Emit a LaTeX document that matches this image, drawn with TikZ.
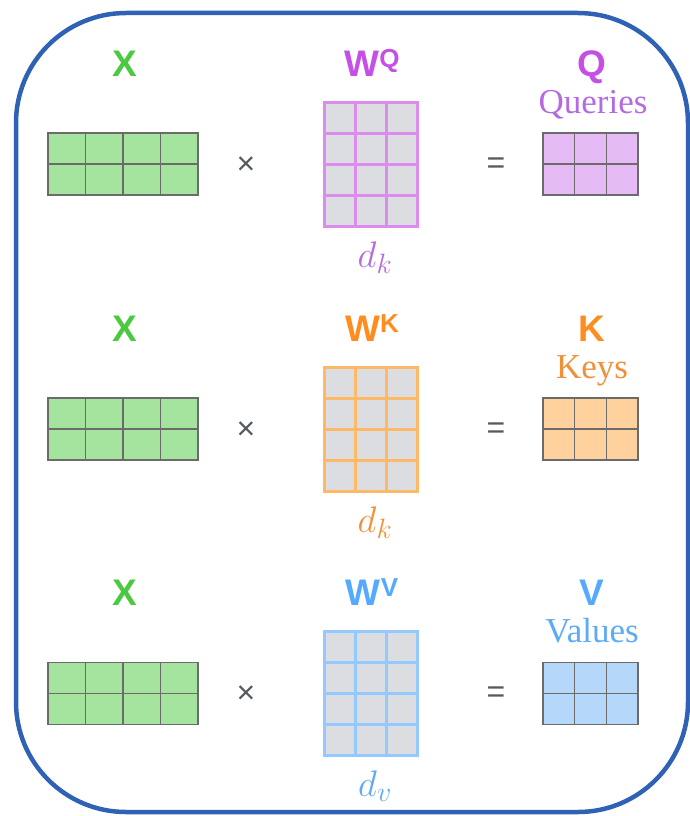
\RequirePackage{fix-cm}
\documentclass[tikz,border=0pt]{standalone}
\usepackage{fontspec}
\setmainfont{Liberation Serif}
\newfontfamily\lblfont{Liberation Sans}
\usetikzlibrary{calc}
% larger subscripts for the dimension labels
\DeclareMathSizes{37}{37}{28}{20}

\definecolor{frameblue}{HTML}{2F62B5}
\definecolor{cellline}{HTML}{6B6B6B}
\definecolor{cellgray}{HTML}{DCDDE0}
\definecolor{opgray}{HTML}{555A60}
% input
\definecolor{xtext}{HTML}{4BC940}
\definecolor{xfill}{HTML}{A5E49E}
% queries
\definecolor{qtext}{HTML}{C450E6}
\definecolor{qline}{HTML}{DC8CEE}
\definecolor{qword}{HTML}{B56AE0}
\definecolor{qfill}{HTML}{E6BAF5}
% keys
\definecolor{ktext}{HTML}{FF8C1F}
\definecolor{kline}{HTML}{FFB866}
\definecolor{kword}{HTML}{F0913A}
\definecolor{kfill}{HTML}{FFD19C}
% values
\definecolor{vtext}{HTML}{55AAFF}
\definecolor{vline}{HTML}{93C9FF}
\definecolor{vword}{HTML}{5DAAF5}
\definecolor{vfill}{HTML}{B5D8FA}

\tikzset{
  x=1pt, y=-1pt,
  matbox/.style={draw, inner sep=0pt, outer sep=0pt},
  thinline/.style={draw=cellline, line width=1.5pt},
  xmat/.style={matbox, fill=xfill, thinline},
  qmat/.style={matbox, fill=qfill, thinline},
  kmat/.style={matbox, fill=kfill, thinline},
  vmat/.style={matbox, fill=vfill, thinline},
  wqline/.style={draw=qline, line width=3.5pt},
  wkline/.style={draw=kline, line width=3.5pt},
  wvline/.style={draw=vline, line width=3.5pt},
  wqmat/.style={matbox, fill=cellgray, wqline},
  wkmat/.style={matbox, fill=cellgray, wkline},
  wvmat/.style={matbox, fill=cellgray, wvline},
  bigletter/.style={font=\lblfont\bfseries\fontsize{37}{40}\selectfont, inner sep=0pt, anchor=base},
  word/.style={font=\fontsize{35}{40}\selectfont, inner sep=0pt, anchor=base},
  dimlbl/.style={font=\fontsize{37}{44}\selectfont, inner sep=0pt, anchor=base},
  op/.style={font=\lblfont\fontsize{32}{36}\selectfont, text=opgray, inner sep=0pt},
}

% #1 name, #2 centre, #3 columns, #4 rows, #5 width, #6 height, #7 box style, #8 line style
\newcommand{\matgrid}[8]{%
  \node[#7, minimum width=#5pt, minimum height=#6pt] (#1) at (#2) {};
  \pgfmathtruncatemacro\gridlastc{#3-1}%
  \pgfmathtruncatemacro\gridlastr{#4-1}%
  \foreach \i in {1,...,\gridlastc}
    \draw[#8] ($(#1.north west)!\i/#3!(#1.north east)$) -- ($(#1.south west)!\i/#3!(#1.south east)$);
  \foreach \j in {1,...,\gridlastr}
    \draw[#8] ($(#1.north west)!\j/#4!(#1.south west)$) -- ($(#1.north east)!\j/#4!(#1.south east)$);
}

\newcommand{\supW}[1]{W\raisebox{9pt}{\fontsize{26}{28}\selectfont #1}}

\begin{document}
\begin{tikzpicture}
\useasboundingbox (0,0) rectangle (690,816);

% outer frame
\draw[frameblue, line width=4.5pt, rounded corners=110pt] (16,13) rectangle (688,812);

% ---- queries row ----
\node[bigletter, text=xtext] (xlab1) at (125,76) {X};
\node[bigletter, text=qtext] (wqlab) at (372,76) {\supW{Q}};
\node[bigletter, text=qtext] (qlab) at (592,76) {Q};
\node[word, text=qword] (qword) at (593,113) {Queries};
\matgrid{x1}{123,164}{4}{2}{150}{62}{xmat}{thinline}
\matgrid{wq}{371,164.5}{3}{4}{93}{124}{wqmat}{wqline}
\matgrid{q}{590.5,164}{3}{2}{95}{62}{qmat}{thinline}
\node[op] (times1) at (246,166) {×};
\node[op] (eq1) at (496,166) {=};
\node[dimlbl, text=qword] (dq) at (375,267) {$d_k$};

% ---- keys row ----
\node[bigletter, text=xtext] (xlab2) at (125,341) {X};
\node[bigletter, text=ktext] (wklab) at (372,341) {\supW{K}};
\node[bigletter, text=ktext] (klab) at (592,341) {K};
\node[word, text=kword] (kword) at (592,378) {Keys};
\matgrid{x2}{123,429}{4}{2}{150}{62}{xmat}{thinline}
\matgrid{wk}{371,429.5}{3}{4}{93}{124}{wkmat}{wkline}
\matgrid{k}{590.5,429}{3}{2}{95}{62}{kmat}{thinline}
\node[op] (times2) at (246,431) {×};
\node[op] (eq2) at (496,431) {=};
\node[dimlbl, text=kword] (dk) at (375,532) {$d_k$};

% ---- values row ----
\node[bigletter, text=xtext] (xlab3) at (125,605) {X};
\node[bigletter, text=vtext] (wvlab) at (372,605) {\supW{V}};
\node[bigletter, text=vtext] (vlab) at (592,605) {V};
\node[word, text=vword] (vword) at (592,642) {Values};
\matgrid{x3}{123,693.5}{4}{2}{150}{62}{xmat}{thinline}
\matgrid{wv}{371,693.5}{3}{4}{93}{124}{wvmat}{wvline}
\matgrid{v}{590.5,693.5}{3}{2}{95}{62}{vmat}{thinline}
\node[op] (times3) at (246,695) {×};
\node[op] (eq3) at (496,695) {=};
\node[dimlbl, text=vword] (dv) at (375,796) {$d_v$};
\end{tikzpicture}
\end{document}
